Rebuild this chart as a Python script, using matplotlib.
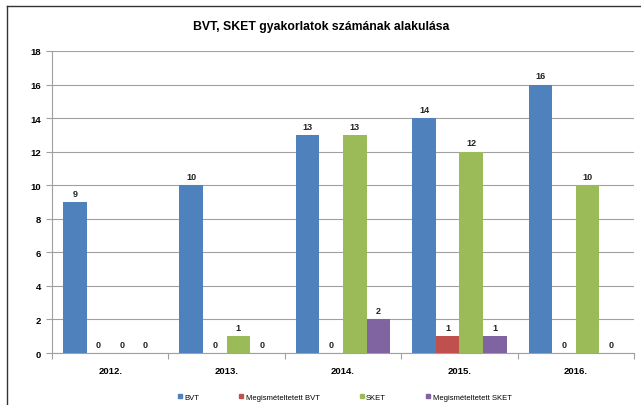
import matplotlib
matplotlib.use("Agg")
import matplotlib.pyplot as plt
import numpy as np
from matplotlib.lines import Line2D

years = ["2012.", "2013.", "2014.", "2015.", "2016."]
series_names = ["BVT", "Megismételtetett BVT", "SKET", "Megismételtetett SKET"]
bvt = [9, 10, 13, 14, 16]
rep_bvt = [0, 0, 0, 1, 0]
sket = [0, 1, 13, 12, 10]
rep_sket = [0, 0, 2, 1, 0]
colors = ["#4F81BD", "#C0504D", "#9BBB59", "#8064A2"]
yticks = list(range(0, 19, 2))

plt.rcParams['font.family'] = ['Liberation Sans', 'DejaVu Sans']

fig = plt.figure(figsize=(6.41, 4.06), dpi=100)
ax = fig.add_axes([52/641, 1-354/406, (634-52)/641, (354-52)/406])

data = [bvt, rep_bvt, sket, rep_sket]
n = len(years)
x = np.arange(n)
bw = 0.2025
for i, (vals, c) in enumerate(zip(data, colors)):
    pos = x - 1.5*bw + i*bw
    ax.bar(pos, vals, width=bw, color=c, edgecolor='none', zorder=3)
    for p, v in zip(pos, vals):
        ax.text(p, v + 0.25, str(v), ha='center', va='bottom', fontsize=6.5,
                fontweight='bold', color='#222222')

ax.set_xlim(-0.5, n - 0.5)
ax.set_ylim(0, 18)
ax.set_yticks(yticks)
ax.set_yticklabels([str(t) for t in yticks], fontsize=6.8, fontweight='bold')
ax.yaxis.grid(True, color='#A0A0A0', linewidth=0.8, zorder=0)
ax.set_axisbelow(True)
ax.set_xticks(np.arange(n + 1) - 0.5)
ax.set_xticklabels([])
ax.set_xticks(x, minor=True)
ax.set_xticklabels(years, minor=True, fontsize=6.8, fontweight='bold')
ax.tick_params(axis='x', which='minor', length=0, pad=9)
ax.tick_params(axis='x', which='major', length=4, color='#A0A0A0')
ax.tick_params(axis='y', length=4, color='#A0A0A0', pad=4)
for s in ['top', 'right']:
    ax.spines[s].set_visible(False)
ax.spines['left'].set_color('#A0A0A0')
ax.spines['bottom'].set_color('#A0A0A0')

fig.text(321/641, 1-27/406, "BVT, SKET gyakorlatok számának alakulása",
         ha='center', va='center', fontsize=8.8, fontweight='bold')

handles = [Line2D([0], [0], marker='s', linestyle='none', markersize=3.5,
                  markerfacecolor=c, markeredgecolor=c) for c in colors]
fig.legend(handles, series_names, loc='center', bbox_to_anchor=(344/641, 1-398/406),
           ncol=4, frameon=False, fontsize=5.5, handletextpad=0.2, columnspacing=5.1,
           handlelength=0.8)

# outer frame (left and top edges visible)
fig.add_artist(Line2D([7/641, 7/641], [0, 1-7/406], transform=fig.transFigure,
                      color='#333333', linewidth=1))
fig.add_artist(Line2D([7/641, 1], [1-7/406, 1-7/406], transform=fig.transFigure,
                      color='#333333', linewidth=1))

fig.savefig("out.png", dpi=100)
